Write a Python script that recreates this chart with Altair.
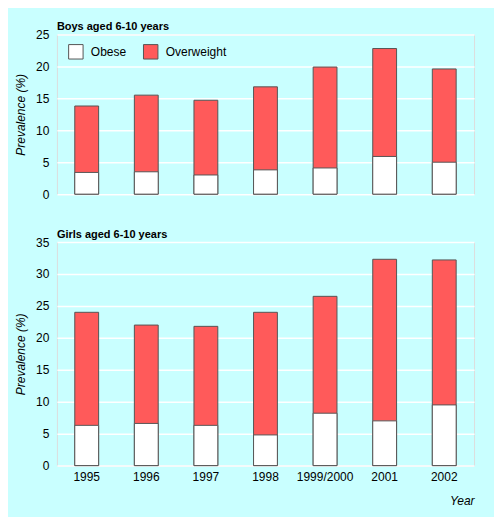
import altair as alt
import pandas as pd

years = ["1995", "1996", "1997", "1998", "1999/2000", "2001", "2002"]
boys_obese = [3.4, 3.5, 3.0, 3.8, 4.1, 5.9, 5.0]
boys_overweight = [13.8, 15.5, 14.7, 16.8, 19.9, 22.8, 19.6]
girls_obese = [6.3, 6.6, 6.3, 4.8, 8.2, 7.0, 9.5]
girls_overweight = [24.0, 22.0, 21.8, 24.0, 26.5, 32.3, 32.2]
series = ["Obese", "Overweight"]

def make_df(obese, overweight):
    rows = []
    for y, v in zip(years, overweight):
        rows.append({"year": y, "series": "Overweight", "value": v})
    for y, v in zip(years, obese):
        rows.append({"year": y, "series": "Obese", "value": v})
    return pd.DataFrame(rows)

FONT = "Liberation Sans, Arial"
FS = 12
RED = "#ff5a5a"
PLOT_BG = "#a9fdfd"
OUTER_BG = "#c9ffff"

color_scale = alt.Scale(domain=series, range=["white", RED])

def panel(df, title, ymax, height, show_x, show_legend):
    x_axis = alt.Axis(labelFontSize=FS, labelFont=FONT, labelPadding=6, ticks=False,
                      domain=False, labelAngle=0, title="Year", titleFont=FONT,
                      titleFontSize=FS, titleFontStyle="italic", titleFontWeight="normal",
                      titleAnchor="end", titlePadding=13) if show_x else None
    legend = alt.Legend(title=None, orient="none", legendX=11, legendY=9,
                        direction="horizontal", symbolType="square", symbolSize=210,
                        symbolStrokeColor="#555555", symbolStrokeWidth=1,
                        labelFont=FONT, labelFontSize=FS, labelOffset=7,
                        columnPadding=14, symbolOpacity=1) if show_legend else None
    return alt.Chart(df).mark_bar(stroke="#555555", strokeWidth=1, opacity=1).encode(
        x=alt.X("year:N", sort=years,
                scale=alt.Scale(paddingInner=0.6, paddingOuter=0.3),
                axis=x_axis),
        y=alt.Y("value:Q", stack=None,
                scale=alt.Scale(domain=[0, ymax], nice=False),
                axis=alt.Axis(values=list(range(0, ymax + 1, 5)), labelFontSize=FS,
                              labelFont=FONT, labelPadding=8, ticks=False, domain=False,
                              gridColor="white", gridWidth=1.5,
                              title="Prevalence (%)", titleFont=FONT, titleFontSize=FS,
                              titleFontStyle="italic", titleFontWeight="normal",
                              titlePadding=8)),
        color=alt.Color("series:N", scale=color_scale, legend=legend),
    ).properties(
        width=418, height=height,
        title=alt.TitleParams(title, anchor="start", frame="group", fontSize=11,
                              font="Liberation Sans, Arial", fontWeight="bold",
                              offset=-4),
    )

boys = panel(make_df(boys_obese, boys_overweight), "Boys aged 6-10 years", 25, 160, False, True)
girls = panel(make_df(girls_obese, girls_overweight), "Girls aged 6-10 years", 35, 224, True, False)

chart = alt.vconcat(boys, girls, spacing=27).resolve_scale(
    color="independent"
).resolve_legend(color="independent").configure_view(
    fill=PLOT_BG, stroke=None
).configure(
    background=OUTER_BG, padding={"left": 6, "top": 12, "right": 19, "bottom": 9}
)

chart.save("out.html", embed_options={"renderer": "svg", "actions": False})
